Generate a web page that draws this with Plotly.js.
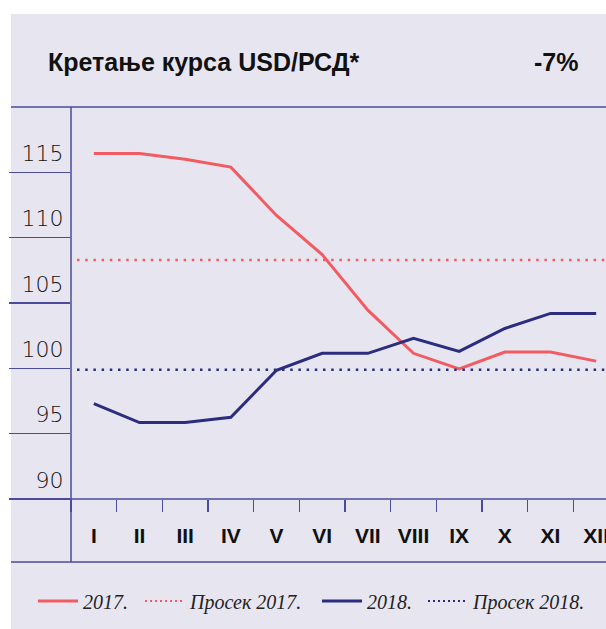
<!DOCTYPE html>
<html>
<head>
<meta charset="utf-8">
<script src="https://cdn.plot.ly/plotly-3.0.1.min.js"></script>
<style>
html,body{margin:0;padding:0;overflow:hidden;background:#fff;}
#chart{width:640px;height:629px;}
</style>
</head>
<body>
<div id="chart"></div>
<script>
// ---- data ----
const months = ['I','II','III','IV','V','VI','VII','VIII','IX','X','XI','XII'];
const usd2017 = [116.45, 116.45, 116.0, 115.4, 111.7, 108.7, 104.45, 101.15, 99.95, 101.25, 101.25, 100.55];
const usd2018 = [97.3, 95.85, 95.85, 96.25, 99.85, 101.15, 101.15, 102.3, 101.3, 103.05, 104.2, 104.2];
const avg2017 = 108.3;
const avg2018 = 99.9;
const yTicks = [90, 95, 100, 105, 110, 115];
const seriesNames = ['2017.', 'Просек 2017.', '2018.', 'Просек 2018.'];
const titleText = 'Кретање курса USD/РСД*';
const changeText = '-7%';

// ---- style ----
const RED = '#f25b61';
const BLUE = '#2d2d80';
const AXIS = '#4b4b9b';
const PANEL = '#e7e6f0';
const W = 640, H = 629;
const ML = 71, MT = 107, PW = 548, PH = 392;
const PX = p => (p - ML) / PW;
const PY = p => (MT + PH - p) / PH;
const DOT = '2.5px,5.7px';
const LEGDOT = '2px,3px';

const traces = [
  {x: months, y: usd2017, name: seriesNames[0], type: 'scatter', mode: 'lines', legend: 'legend',
   line: {color: RED, width: 3}},
  {x: [null], y: [avg2017], name: seriesNames[1], type: 'scatter', mode: 'lines', legend: 'legend2',
   line: {color: RED, width: 2.2, dash: LEGDOT}},
  {x: months, y: usd2018, name: seriesNames[2], type: 'scatter', mode: 'lines', legend: 'legend3',
   line: {color: BLUE, width: 3}},
  {x: [null], y: [avg2018], name: seriesNames[3], type: 'scatter', mode: 'lines', legend: 'legend4',
   line: {color: BLUE, width: 2.2, dash: LEGDOT}}
];

const L = PX(11), R = PX(W);
const shapes = [
  {type: 'rect', xref: 'paper', yref: 'paper', x0: L, x1: R, y0: PY(H), y1: PY(14),
   fillcolor: PANEL, line: {width: 0}, layer: 'below'},
  {type: 'line', xref: 'paper', yref: 'paper', x0: L, x1: R, y0: 1, y1: 1, line: {color: AXIS, width: 1.5}},
  {type: 'line', xref: 'paper', yref: 'paper', x0: L, x1: R, y0: 0, y1: 0, line: {color: AXIS, width: 1.5}},
  {type: 'line', xref: 'paper', yref: 'paper', x0: L, x1: R, y0: PY(562), y1: PY(562), line: {color: AXIS, width: 1.5}},
  {type: 'line', xref: 'paper', yref: 'paper', x0: 0, x1: 0, y0: PY(562), y1: 1, line: {color: AXIS, width: 1.5}},
  {type: 'line', xref: 'paper', yref: 'y', x0: PX(77), x1: R, y0: avg2017, y1: avg2017,
   line: {color: RED, width: 2.5, dash: DOT}},
  {type: 'line', xref: 'paper', yref: 'y', x0: PX(77), x1: R, y0: avg2018, y1: avg2018,
   line: {color: BLUE, width: 2.5, dash: DOT}}
];

const legendFont = {family: 'Liberation Serif, serif', size: 20, style: 'italic', color: '#222'};
function mkLegend(px) {
  return {orientation: 'h', xref: 'container', yref: 'container',
          x: px / W, y: 1 - 601 / H, xanchor: 'left', yanchor: 'middle',
          itemwidth: 40, bgcolor: 'rgba(0,0,0,0)', font: legendFont};
}

const layout = {
  width: W, height: H,
  margin: {l: ML, r: W - ML - PW, t: MT, b: H - MT - PH, pad: 0},
  paper_bgcolor: '#ffffff',
  plot_bgcolor: 'rgba(0,0,0,0)',
  showlegend: true,
  legend: mkLegend(33),
  legend2: mkLegend(140),
  legend3: mkLegend(317),
  legend4: mkLegend(423),
  xaxis: {type: 'category', categoryorder: 'array', categoryarray: months,
          range: [-0.5, 11.5], fixedrange: true,
          showgrid: false, zeroline: false, showline: false,
          ticks: 'outside', tickson: 'boundaries', ticklen: 12, tickwidth: 1.5, tickcolor: AXIS,
          ticklabelstandoff: 22, automargin: false,
          tickfont: {family: 'Liberation Sans, Arial, sans-serif', size: 21, weight: 'bold', color: '#111'}},
  yaxis: {range: [90, 120], fixedrange: true, tickvals: yTicks,
          showgrid: false, zeroline: false, showline: false,
          ticks: 'outside', ticklen: 61, tickwidth: 1.5, tickcolor: AXIS,
          ticklabelstandoff: -59, ticklabelshift: -19, automargin: false,
          tickfont: {family: 'DejaVu Sans, sans-serif', size: 22, weight: 300, color: '#111'}},
  shapes: shapes,
  annotations: [
    {xref: 'paper', yref: 'paper', x: PX(46), y: PY(62), xanchor: 'left', yanchor: 'middle',
     text: titleText, showarrow: false,
     font: {family: 'Liberation Sans, Arial, sans-serif', size: 25, weight: 'bold', color: '#111'}},
    {xref: 'paper', yref: 'paper', x: PX(580), y: PY(62), xanchor: 'right', yanchor: 'middle',
     text: changeText, showarrow: false,
     font: {family: 'Liberation Sans, Arial, sans-serif', size: 25, weight: 'bold', color: '#111'}}
  ]
};

Plotly.newPlot('chart', traces, layout, {displayModeBar: false, staticPlot: true});
</script>
</body>
</html>
